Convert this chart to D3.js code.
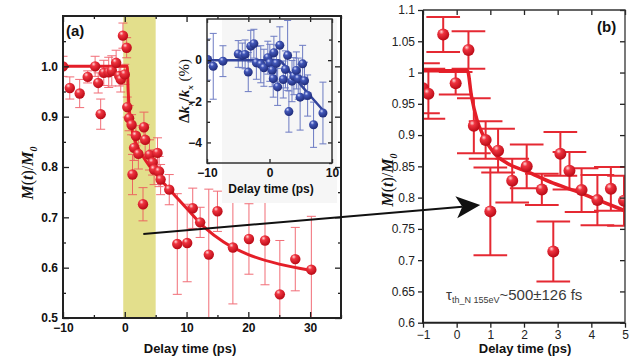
<!DOCTYPE html>
<html>
<head>
<meta charset="utf-8">
<script src="https://cdn.jsdelivr.net/npm/d3@7"></script>
<style>
  body { margin: 0; background: #fff; }
  svg { display: block; font-family: Arial, "Liberation Sans", sans-serif; }
</style>
</head>
<body>
<script>
// ---- panel (a): M(t)/M0 vs delay time, 0..30 ps
const aTime = [-10, -8.9, -7.3, -6.0, -4.8, -4.3, -3.9, -3.4, -2.6, -2.1, -1.4, -0.9, -0.65, -0.3, 0.0, 0.3,
  0.4, 0.7, 1.1, 1.25, 1.5, 1.8, 2.2, 2.95, 3.1, 3.3, 4.0, 4.5, 4.75, 5.3, 5.55, 5.8,
  7.2, 8.5, 10.1, 11.0, 12.2, 13.6, 15.0, 17.5, 20.1, 22.7, 25.1, 27.6, 30.2];
const aVal = [1.000, 0.957, 0.946, 0.979, 1.000, 0.967, 0.905, 0.987, 0.988, 0.991, 1.007, 0.981, 0.974, 1.061, 0.984, 1.037,
  0.919, 0.897, 0.884, 0.785, 0.838, 0.862, 0.826, 0.726, 0.879, 0.854, 0.824, 0.809, 0.795, 0.828, 0.791, 0.775,
  0.755, 0.647, 0.649, 0.718, 0.690, 0.626, 0.712, 0.640, 0.657, 0.654, 0.547, 0.617, 0.596];
const aErr = [0.020, 0.022, 0.028, 0.012, 0.020, 0.020, 0.030, 0.025, 0.030, 0.030, 0.025, 0.020, 0.025, 0.025, 0.020, 0.020,
  0.020, 0.025, 0.020, 0.040, 0.025, 0.020, 0.030, 0.033, 0.030, 0.030, 0.030, 0.025, 0.030, 0.030, 0.030, 0.030,
  0.030, 0.100, 0.077, 0.040, 0.030, 0.130, 0.040, 0.112, 0.070, 0.088, 0.107, 0.063, 0.106];
const aFitTime = [-10, 0.4, 0.55, 0.8, 1.2, 2, 3, 4, 5, 6, 8, 10, 13, 16, 20, 25, 30];
const aFitVal = [1.0, 1.0, 0.95, 0.905, 0.872, 0.842, 0.82, 0.802, 0.787, 0.772, 0.745, 0.718, 0.679, 0.651, 0.626, 0.607, 0.595];
const aShade = [-0.25, 5.0];
const aXTicks = [-10, 0, 10, 20, 30];
const aXMinor = [-5, 5, 15, 25, 35];
const aYTicks = [0.5, 0.6, 0.7, 0.8, 0.9, 1.0];
const aYMinor = [0.55, 0.65, 0.75, 0.85, 0.95, 1.05];

// ---- inset: Δkx/kx (%)
const inTime = [-9.9, -9.0, -7.45, -5.0, -4.35, -3.9, -3.4, -3.0, -2.5, -2.1, -1.4, -0.9, -0.27, 0.05, 0.43, 0.6, 0.7,
  1.1, 1.3, 1.65, 2.2, 2.55, 2.9, 3.1, 3.6, 3.9, 4.3, 4.6, 4.9, 5.3, 5.6, 6.1, 7.05, 8.55];
const inVal = [0.03, -0.30, -0.05, 0.30, 0.23, 0.28, -0.58, 0.68, 0.80, -0.13, -0.20, -0.37, 0.12, -0.13, -0.49, -0.90, 0.36,
  -0.16, -1.30, 0.72, -0.94, -0.45, 0.23, -2.50, -1.02, -0.78, -0.50, -0.90, -1.80, -0.18, -1.00, -1.72, -3.14, -2.57];
const inErr = [1.0, 1.6, 0.75, 0.65, 0.6, 0.7, 0.95, 0.77, 0.7, 0.8, 0.9, 0.9, 0.8, 0.9, 0.8, 0.9, 0.8,
  0.9, 0.9, 0.9, 0.9, 0.9, 1.7, 1.0, 1.0, 0.9, 0.9, 1.0, 1.6, 0.9, 0.9, 1.0, 1.1, 1.5];
const inFitTime = [-10, 1.5, 3, 5, 7, 8.6];
const inFitVal = [0, 0, -0.5, -1.2, -1.9, -2.45];
const inXTicks = [-10, 0, 10];
const inYTicks = [-4, -2, 0];
const inYMinor = [-5, -3, -1, 1];

// ---- panel (b): zoom 0..5 ps
const bTime = [-1.0, -0.84, -0.4, -0.03, 0.35, 0.51, 0.86, 1.0, 1.23, 1.65, 2.08, 2.53, 2.87, 3.08, 3.35, 3.71, 4.18, 4.58, 4.97];
const bVal = [0.975, 0.966, 1.061, 0.983, 1.036, 0.915, 0.892, 0.778, 0.875, 0.827, 0.850, 0.813, 0.714, 0.870, 0.843, 0.812, 0.796, 0.814, 0.795];
const bErr = [0.040, 0.040, 0.028, 0.018, 0.030, 0.044, 0.030, 0.070, 0.035, 0.035, 0.035, 0.025, 0.048, 0.035, 0.030, 0.035, 0.040, 0.035, 0.040];
const bFitTime = [-1, 0.32, 0.44, 0.6, 0.8, 1.1, 1.5, 2.08, 2.87, 3.56, 4.15, 5];
const bFitVal = [1.003, 1.003, 0.962, 0.925, 0.898, 0.872, 0.855, 0.842, 0.823, 0.81, 0.797, 0.779];
const bXTicks = [-1, 0, 1, 2, 3, 4, 5];
const bYTicks = [0.6, 0.65, 0.7, 0.75, 0.8, 0.85, 0.9, 0.95, 1, 1.05, 1.1];

// arrow from panel (a) data coords to panel (b) data coords
const arrowFrom = [3.0, 0.667];
const arrowTo = [0.7, 0.788];

const W = 634, H = 363;
const RED = '#e41e28', BLUE = '#33449c';

const svg = d3.select('body').append('svg').attr('width', W).attr('height', H);
const defs = svg.append('defs');

function sphere(id, hi, mid, dark) {
  const g = defs.append('radialGradient').attr('id', id)
    .attr('cx', '38%').attr('cy', '32%').attr('r', '70%').attr('fx', '35%').attr('fy', '28%');
  g.append('stop').attr('offset', '0%').attr('stop-color', hi);
  g.append('stop').attr('offset', '30%').attr('stop-color', mid);
  g.append('stop').attr('offset', '100%').attr('stop-color', dark);
}
sphere('redBall', '#ffd8d8', '#ef3440', '#b80814');
sphere('blueBall', '#d8ddff', '#4257b8', '#1e2a78');

function clip(id, x0, y0, x1, y1) {
  defs.append('clipPath').attr('id', id).append('rect')
    .attr('x', x0).attr('y', y0).attr('width', x1 - x0).attr('height', y1 - y0);
}

// scales
const xA = d3.scaleLinear().domain([-10, 35]).range([63, 341]);
const yA = d3.scaleLinear().domain([0.5, 1.1]).range([318, 16]);
const xI = d3.scaleLinear().domain([-10, 10]).range([207, 332]);
const yI = d3.scaleLinear().domain([-5, 2]).range([163, 19]);
const xB = d3.scaleLinear().domain([-1, 5]).range([423, 625]);
const yB = d3.scaleLinear().domain([0.6, 1.1]).range([322.7, 10]);

clip('clipA', 63, 16, 341, 318);
clip('clipI', 207, 19, 332, 163);
clip('clipB', 423, 10, 625, 322.7);

function styleAxis(g, size, weight, color) {
  g.select('.domain').remove();
  g.selectAll('line').attr('stroke', '#222').attr('stroke-width', 1.3);
  g.selectAll('text').attr('font-family', 'Arial, "Liberation Sans", sans-serif')
    .attr('font-size', size).attr('font-weight', weight).attr('fill', color || '#111');
}

function axisSet(x, y, xt, xm, yt, ym, size, inner, fmtX, fmtY, top, right) {
  const g = svg.append('g');
  const x0 = x.range()[0], x1 = x.range()[1], y0 = y.range()[0], y1 = y.range()[1];
  styleAxis(g.append('g').attr('transform', `translate(0,${y0})`)
    .call(d3.axisBottom(x).tickValues(xt).tickSize(inner ? -size : size).tickPadding(inner ? 5 : 3).tickFormat(fmtX)), 12, 'bold');
  if (xm) styleAxis(g.append('g').attr('transform', `translate(0,${y0})`)
    .call(d3.axisBottom(x).tickValues(xm).tickSize(inner ? -3 : 3).tickFormat('')), 12, 'bold');
  styleAxis(g.append('g').attr('transform', `translate(${x0},0)`)
    .call(d3.axisLeft(y).tickValues(yt).tickSize(inner ? -size : size).tickPadding(inner ? 5 : 3).tickFormat(fmtY)), 12, 'bold');
  if (ym) styleAxis(g.append('g').attr('transform', `translate(${x0},0)`)
    .call(d3.axisLeft(y).tickValues(ym).tickSize(inner ? -3 : 3).tickFormat('')), 12, 'bold');
  if (top) {
    styleAxis(g.append('g').attr('transform', `translate(0,${y1})`)
      .call(d3.axisTop(x).tickValues(xt).tickSize(-size).tickFormat('')), 12);
    if (xm) styleAxis(g.append('g').attr('transform', `translate(0,${y1})`)
      .call(d3.axisTop(x).tickValues(xm).tickSize(-3).tickFormat('')), 12);
  }
  if (right) {
    styleAxis(g.append('g').attr('transform', `translate(${x1},0)`)
      .call(d3.axisRight(y).tickValues(yt).tickSize(-size).tickFormat('')), 12);
    if (ym) styleAxis(g.append('g').attr('transform', `translate(${x1},0)`)
      .call(d3.axisRight(y).tickValues(ym).tickSize(-3).tickFormat('')), 12);
  }
  return g;
}

function errorBars(parent, xs, ys, ts, vs, es, capHalf, color, width, opacity, capInData) {
  const g = parent.append('g').attr('stroke', color).attr('stroke-width', width).attr('opacity', opacity);
  ts.forEach((t, i) => {
    const cx = xs(t), top = ys(vs[i] + es[i]), bot = ys(vs[i] - es[i]);
    const l = capInData ? xs(t - capHalf) : cx - capHalf;
    const r = capInData ? xs(t + capHalf) : cx + capHalf;
    g.append('line').attr('x1', cx).attr('x2', cx).attr('y1', top).attr('y2', bot);
    g.append('line').attr('x1', l).attr('x2', r).attr('y1', top).attr('y2', top);
    g.append('line').attr('x1', l).attr('x2', r).attr('y1', bot).attr('y2', bot);
  });
}

function fitLine(parent, xs, ys, ts, vs, color, width) {
  const pts = ts.map((t, i) => [t, vs[i]]);
  parent.append('path').datum(pts)
    .attr('d', d3.line().x(d => xs(d[0])).y(d => ys(d[1])).curve(d3.curveMonotoneX))
    .attr('fill', 'none').attr('stroke', color).attr('stroke-width', width)
    .attr('stroke-linejoin', 'round');
}

function balls(parent, xs, ys, ts, vs, r, grad) {
  parent.append('g').selectAll('circle').data(ts).join('circle')
    .attr('cx', d => xs(d)).attr('cy', (d, i) => ys(vs[i])).attr('r', r)
    .attr('fill', `url(#${grad})`);
}

// ================= panel (a) =================
const pA = svg.append('g').attr('clip-path', 'url(#clipA)');
pA.append('rect').attr('x', xA(aShade[0])).attr('y', yA(1.1))
  .attr('width', xA(aShade[1]) - xA(aShade[0])).attr('height', yA(0.5) - yA(1.1))
  .attr('fill', '#e3df8c');
// inset background (pasted picture look)
svg.append('rect').attr('x', xI(-7.6)).attr('y', yI(2) - 1).attr('width', 337 - xI(-7.6)).attr('height', 203 - yI(2) + 1)
  .attr('fill', '#f6f6f6');
errorBars(pA, xA, yA, aTime, aVal, aErr, 4.5, '#ef4a56', 1, 0.8, false);
fitLine(pA, xA, yA, aFitTime, aFitVal, RED, 3);
balls(pA, xA, yA, aTime, aVal, 5.2, 'redBall');

axisSet(xA, yA, aXTicks, aXMinor, aYTicks, aYMinor, 6, true,
  d3.format('d'), d3.format('.1f'), true, true);
svg.append('rect').attr('x', 63).attr('y', 16).attr('width', 278).attr('height', 302)
  .attr('fill', 'none').attr('stroke', '#222').attr('stroke-width', 2);

svg.append('text').attr('x', 66).attr('y', 36).attr('font-size', 15).attr('font-weight', 'bold')
  .attr('fill', '#111').text('(a)');

function mLabel(x, y) {
  const t = svg.append('text').attr('transform', `translate(${x},${y}) rotate(-90)`)
    .attr('text-anchor', 'middle').attr('font-family', '"Liberation Serif", "Times New Roman", serif')
    .attr('font-style', 'italic').attr('font-weight', 'bold').attr('font-size', 16).attr('fill', '#111');
  t.append('tspan').text('M');
  t.append('tspan').attr('font-style', 'normal').attr('font-weight', 'normal').text('(');
  t.append('tspan').text('t');
  t.append('tspan').attr('font-style', 'normal').attr('font-weight', 'normal').text(')/');
  t.append('tspan').text('M');
  t.append('tspan').attr('font-size', 10).attr('dy', 4).text('0');
}
mLabel(33, 173);

svg.append('text').attr('x', 190).attr('y', 353).attr('text-anchor', 'middle')
  .attr('font-size', 13).attr('font-weight', 'bold').attr('fill', '#111').text('Delay time (ps)');

// ================= inset =================
const pI = svg.append('g').attr('clip-path', 'url(#clipI)');
errorBars(pI, xI, yI, inTime, inVal, inErr, 3.5, '#5566bb', 1, 0.85, false);
fitLine(pI, xI, yI, inFitTime, inFitVal, BLUE, 2.5);
balls(pI, xI, yI, inTime, inVal, 4.5, 'blueBall');

axisSet(xI, yI, inXTicks, null, inYTicks, inYMinor, 4, true,
  d3.format('d'), d3.format('d'), true, true);
svg.append('rect').attr('x', 207).attr('y', 19).attr('width', 125).attr('height', 144)
  .attr('fill', 'none').attr('stroke', '#333').attr('stroke-width', 1.5);

const ik = svg.append('text').attr('transform', 'translate(189,91) rotate(-90)')
  .attr('text-anchor', 'middle').attr('font-family', '"Liberation Serif", "Times New Roman", serif')
  .attr('font-weight', 'bold').attr('font-size', 15).attr('fill', '#111');
ik.append('tspan').text('Δ');
ik.append('tspan').attr('font-style', 'italic').text('k');
ik.append('tspan').attr('font-style', 'italic').attr('font-size', 9).attr('dy', 4).text('x');
ik.append('tspan').attr('dy', -4).text('/');
ik.append('tspan').attr('font-style', 'italic').text('k');
ik.append('tspan').attr('font-style', 'italic').attr('font-size', 9).attr('dy', 4).text('x');
ik.append('tspan').attr('dy', -4).attr('font-weight', 'normal').text(' (%)');

svg.append('text').attr('x', 271).attr('y', 193).attr('text-anchor', 'middle')
  .attr('font-size', 12).attr('font-weight', 'bold').attr('fill', '#111').text('Delay time (ps)');

// ================= panel (b) =================
const pB = svg.append('g').attr('clip-path', 'url(#clipB)');
errorBars(pB, xB, yB, bTime, bVal, bErr, 0.5, RED, 2, 0.95, true);
fitLine(pB, xB, yB, bFitTime, bFitVal, RED, 3.5);
balls(pB, xB, yB, bTime, bVal, 6, 'redBall');

const gB = svg.append('g');
const fmtB = d => String(+d.toFixed(2));
styleAxis(gB.append('g').attr('transform', `translate(0,${yB(0.6)})`)
  .call(d3.axisBottom(xB).tickValues(bXTicks).tickSize(5).tickPadding(3).tickFormat(d3.format('d'))), 12, 'normal', '#222');
styleAxis(gB.append('g').attr('transform', `translate(${xB(-1)},0)`)
  .call(d3.axisLeft(yB).tickValues(bYTicks).tickSize(5).tickPadding(3).tickFormat(fmtB)), 12, 'normal', '#222');
styleAxis(gB.append('g').attr('transform', `translate(0,${yB(1.1)})`)
  .call(d3.axisTop(xB).tickValues(bXTicks).tickSize(-5).tickFormat('')), 12);
styleAxis(gB.append('g').attr('transform', `translate(${xB(5)},0)`)
  .call(d3.axisRight(yB).tickValues(bYTicks).tickSize(-5).tickFormat('')), 12);
gB.append('path')
  .attr('d', `M${xB(-1)},${yB(1.1)}V${yB(0.6)}H${xB(5)}`)
  .attr('fill', 'none').attr('stroke', '#222').attr('stroke-width', 2);
gB.append('path')
  .attr('d', `M${xB(-1)},${yB(1.1)}H${xB(5)}V${yB(0.6)}`)
  .attr('fill', 'none').attr('stroke', '#333').attr('stroke-width', 1.3);

svg.append('text').attr('x', 597).attr('y', 32).attr('font-size', 15).attr('font-weight', 'bold')
  .attr('fill', '#111').text('(b)');
mLabel(393, 180);
svg.append('text').attr('x', 525).attr('y', 353).attr('text-anchor', 'middle')
  .attr('font-size', 13).attr('font-weight', 'bold').attr('fill', '#111').text('Delay time (ps)');

const tau = svg.append('text').attr('x', 446).attr('y', 300).attr('fill', '#3a3a3a').attr('font-size', 15);
tau.append('tspan').text('τ');
tau.append('tspan').attr('font-size', 9).attr('dy', 3).text('th_N 155eV');
tau.append('tspan').attr('dy', -3).text('~500±126 fs');

// ================= arrow =================
const ax0 = xA(arrowFrom[0]), ay0 = yA(arrowFrom[1]);
const ax1 = xB(arrowTo[0]), ay1 = yB(arrowTo[1]);
const ang = Math.atan2(ay1 - ay0, ax1 - ax0);
const headLen = 24, headHalf = 11;
const bx = ax1 - headLen * Math.cos(ang), by = ay1 - headLen * Math.sin(ang);
const nx = -Math.sin(ang), ny = Math.cos(ang);
const notch = [ax1 - (headLen - 6) * Math.cos(ang), ay1 - (headLen - 6) * Math.sin(ang)];
svg.append('line').attr('x1', ax0).attr('y1', ay0).attr('x2', notch[0]).attr('y2', notch[1])
  .attr('stroke', '#111').attr('stroke-width', 2);
svg.append('path')
  .attr('d', `M${ax1},${ay1}L${bx + nx * headHalf},${by + ny * headHalf}L${notch[0]},${notch[1]}L${bx - nx * headHalf},${by - ny * headHalf}Z`)
  .attr('fill', '#111');
</script>
</body>
</html>
